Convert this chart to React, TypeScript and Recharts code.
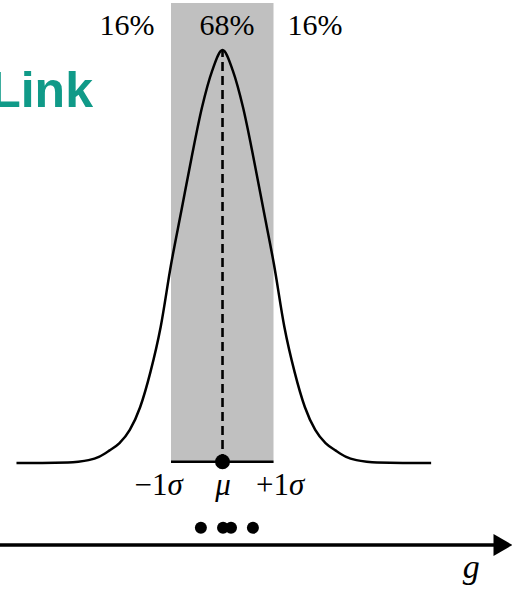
import {
  ComposedChart,
  Line,
  Scatter,
  XAxis,
  YAxis,
  ReferenceArea,
  ReferenceLine,
  ReferenceDot,
} from "recharts";

// Bell curve, x in sigma units (band = ±1), y relative to the peak
const curveX = [
  -4.0, -3.5, -3.0, -2.8, -2.6, -2.4, -2.2, -2.0, -1.8, -1.6, -1.4, -1.2, -1.0, -0.8, -0.6, -0.4, -0.2,
  0, 0.2, 0.4, 0.6, 0.8, 1.0, 1.2, 1.4, 1.6, 1.8, 2.0, 2.2, 2.4, 2.6, 2.8, 3.0, 3.5, 4.05,
];
const curveY = [
  0, 0, 0.001, 0.003, 0.007, 0.015, 0.03, 0.048, 0.08, 0.135, 0.22, 0.33, 0.48, 0.61, 0.74, 0.86, 0.95,
  1.0, 0.95, 0.86, 0.74, 0.61, 0.48, 0.33, 0.22, 0.135, 0.08, 0.048, 0.03, 0.015, 0.007, 0.003, 0.001, 0, 0,
];

// observed samples under the axis
const sampleX = [-0.42, 0.01, 0.165, 0.59];
const sampleRow = -0.157;

const bandLabels = ["16%", "68%", "16%"];
const sigmaLabels = ["−1", "μ", "+1"];
const axisName = "g";
const brand = "Link";

const curve = curveX.map((x, i) => ({ x, y: curveY[i] }));
const samples = sampleX.map((x) => ({ x, y: sampleRow }));

const W = 512;
const H = 592;
const X_DOMAIN: [number, number] = [-4.32, 5.62];
const Y_DOMAIN: [number, number] = [-0.3123, 1.1211];
const AXIS_Y = -0.1985;
const ARROW_BASE = 5.3;

const serif = "'Liberation Serif', 'DejaVu Serif', serif";

const textAt = (content: React.ReactNode, style: any) => (p: any) => (
  <text x={p.cx} y={p.cy} {...style}>
    {content}
  </text>
);

export default function App() {
  const bandX = [-1.854, 0.087, 1.796];
  const sigmaX = [-1.24, 0.01, 1.12];

  return (
    <div style={{ position: "absolute", left: 0, top: 0, background: "#fff" }}>
      <ComposedChart width={W} height={H} margin={{ top: 0, right: 0, bottom: 0, left: 0 }}>
        <XAxis type="number" dataKey="x" domain={X_DOMAIN} allowDataOverflow hide />
        <YAxis type="number" dataKey="y" domain={Y_DOMAIN} allowDataOverflow hide />

        <ReferenceArea x1={-1} x2={0.99} y1={0} y2={1.114} fill="#c0c0c0" fillOpacity={1} stroke="none" />

        <ReferenceLine
          segment={[{ x: 0, y: 0 }, { x: 0, y: 1 }]}
          stroke="#000"
          strokeWidth={2.6}
          strokeDasharray="9 5"
        />
        <ReferenceLine segment={[{ x: -1, y: 0.003 }, { x: 0.99, y: 0.003 }]} stroke="#000" strokeWidth={2.5} />

        <Line
          data={curve}
          dataKey="y"
          type="monotone"
          stroke="#000"
          strokeWidth={2.5}
          dot={false}
          activeDot={false}
          isAnimationActive={false}
        />

        <ReferenceDot x={0} y={0.003} r={7.5} fill="#000" stroke="none" />

        <Scatter
          data={samples}
          dataKey="y"
          isAnimationActive={false}
          shape={(p: any) => <circle cx={p.cx} cy={p.cy} r={6} fill="#000" />}
        />

        {/* number line with arrowhead */}
        <ReferenceLine
          segment={[{ x: X_DOMAIN[0], y: AXIS_Y }, { x: ARROW_BASE, y: AXIS_Y }]}
          stroke="#000"
          strokeWidth={3.5}
        />
        <ReferenceDot
          x={ARROW_BASE}
          y={AXIS_Y}
          shape={(p: any) => (
            <polygon
              points={`${p.cx - 2},${p.cy - 11} ${p.cx + 17},${p.cy} ${p.cx - 2},${p.cy + 11}`}
              fill="#000"
            />
          )}
        />

        {bandLabels.map((t, i) => (
          <ReferenceDot
            key={"b" + i}
            x={bandX[i]}
            y={1.036}
            shape={textAt(t, { textAnchor: "middle", fontFamily: serif, fontSize: 30, fill: "#000" })}
          />
        ))}

        {sigmaLabels.map((t, i) => (
          <ReferenceDot
            key={"s" + i}
            x={sigmaX[i]}
            y={-0.0775}
            shape={textAt(
              i === 1 ? (
                <tspan fontStyle="italic">{t}</tspan>
              ) : (
                <>
                  {t}
                  <tspan fontStyle="italic">σ</tspan>
                </>
              ),
              { textAnchor: "middle", fontFamily: serif, fontSize: 31, fill: "#000" }
            )}
          />
        ))}

        <ReferenceDot
          x={4.83}
          y={-0.278}
          shape={textAt(axisName, {
            textAnchor: "middle",
            fontFamily: serif,
            fontStyle: "italic",
            fontSize: 34,
            fill: "#000",
          })}
        />

        <ReferenceDot
          x={-2.515}
          y={0.862}
          shape={textAt(brand, {
            textAnchor: "end",
            fontFamily: "'Liberation Sans', Arial, sans-serif",
            fontWeight: 700,
            fontSize: 50,
            fill: "#109a88",
          })}
        />
      </ComposedChart>
    </div>
  );
}
